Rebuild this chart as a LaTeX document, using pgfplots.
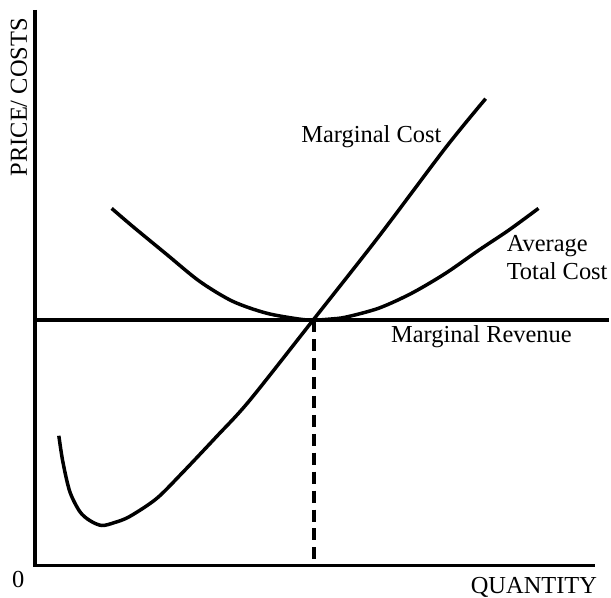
\documentclass[border=0pt]{standalone}
\usepackage{fontspec}
\setmainfont{Liberation Serif}
\usepackage{pgfplots}
\pgfplotsset{compat=1.18}

\tikzset{lbl/.style={font=\fontsize{24.5bp}{29bp}\selectfont, anchor=base west, inner sep=0pt}}

\begin{document}
\begin{tikzpicture}
\begin{axis}[
    scale only axis,
    width=611bp,
    height=598bp,
    xmin=0, xmax=611,
    ymin=0, ymax=598,
    y dir=reverse,
    hide axis,
    clip=false,
]
% frame points, keep the page size
\addplot[draw=none] coordinates {(0,0) (611,598)};

% axes
\addplot[black, line width=3.5bp] coordinates {(35,10) (35,567) (597,567)};

% marginal revenue
\addplot[black, line width=3.5bp] coordinates {(35,321) (611,321)};

% dashed drop line
\addplot[black, line width=3.5bp, dash pattern=on 12bp off 7bp] coordinates {(315,321) (315,567)};

% average total cost
\addplot[black, line width=3.5bp, smooth] coordinates {
    (112,209) (133,227) (167,255) (200,282) (233,302) (267,314)
    (300,320) (315,321) (331,320) (347,318) (380,309)
    (413,294) (447,274) (480,251) (510,231) (540,209)
};

% marginal cost
\addplot[black, line width=3.5bp, smooth] coordinates {
    (59,437) (63,463) (70,493) (80,513) (90,522) (102,527) (115,524)
    (130,518) (157,500) (183,474) (217,438) (250,402)
    (314,321) (380,237) (447,148) (487,99)
};

\node[lbl] at (axis cs:302,143) {Marginal Cost};
\node[lbl] at (axis cs:508,252) {Average};
\node[lbl] at (axis cs:508,280) {Total Cost};
\node[lbl] at (axis cs:392,343) {Marginal Revenue};
\node[lbl] at (axis cs:472,595) {QUANTITY};
\node[lbl] at (axis cs:12,589) {0};
\node[lbl, rotate=90] at (axis cs:27,177) {PRICE/ COSTS};
\end{axis}
\end{tikzpicture}
\end{document}
